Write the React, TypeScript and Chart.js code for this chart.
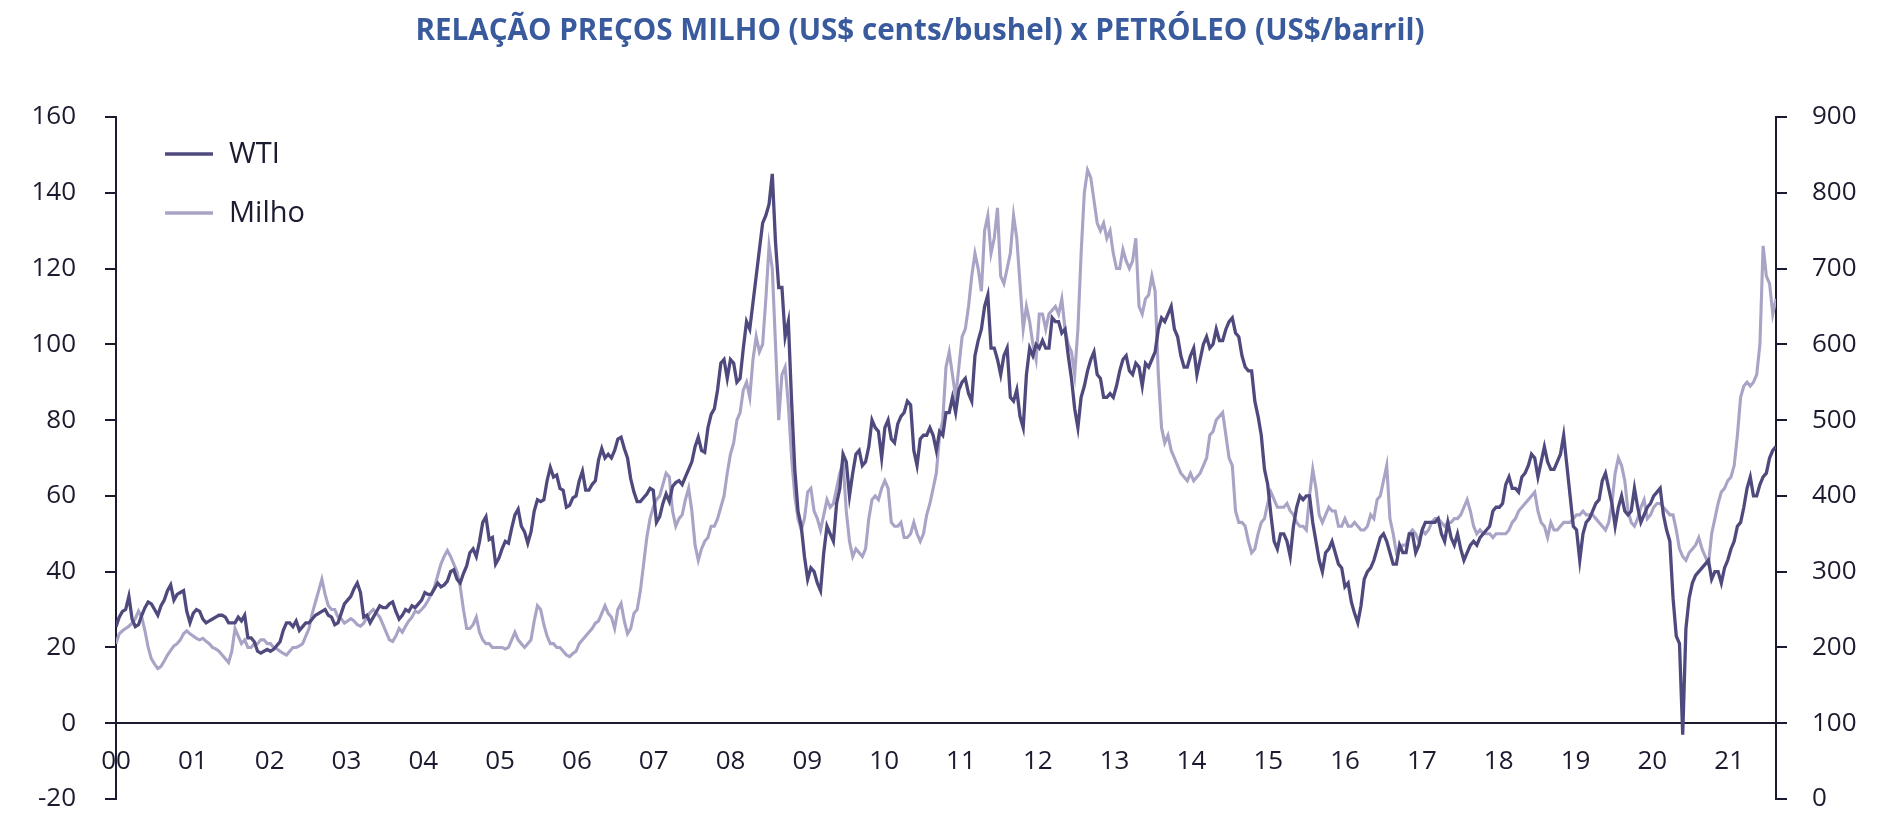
import React, { useEffect, useRef } from "react";
import { Chart, registerables } from "chart.js";

Chart.register(...registerables);

const TITLE = "RELAÇÃO PREÇOS MILHO (US$ cents/bushel) x PETRÓLEO (US$/barril)";
const SERIES_LABELS = ["WTI", "Milho"];
const YEAR_LABELS = ["00","01","02","03","04","05","06","07","08","09","10","11","12","13","14","15","16","17","18","19","20","21"];
const LEFT_TICKS = [-20, 0, 20, 40, 60, 80, 100, 120, 140, 160];
const RIGHT_TICKS = [0, 100, 200, 300, 400, 500, 600, 700, 800, 900];

// WTI, US$/barril — two readings per month (1st and 16th), Jan 2000 .. Jul 2021
const wti = [
  25.5, 28.0, 29.5, 30.0, 33.5, 27.5, 25.5, 26.0, 28.5, 30.5, 32.0, 31.5, 30.0, 28.5, 31.0, 32.5, 35.0, 36.5, 32.5, 34.0, 34.5, 35.0, 29.5, 26.5,
  29.0, 30.0, 29.5, 27.5, 26.5, 27.0, 27.5, 28.0, 28.5, 28.5, 28.0, 26.5, 26.5, 26.5, 28.0, 27.0, 28.5, 22.5, 22.5, 21.5, 19.0, 18.5, 19.0, 19.5,
  19.0, 19.5, 20.5, 21.5, 24.5, 26.5, 26.5, 25.5, 27.0, 24.5, 25.5, 26.5, 26.5, 27.5, 28.5, 29.0, 29.5, 30.0, 28.5, 28.0, 26.0, 26.5, 29.0, 31.5,
  32.5, 33.5, 35.5, 37.0, 34.5, 28.0, 28.5, 26.5, 28.0, 29.5, 31.0, 30.5, 30.5, 31.5, 32.0, 29.5, 27.5, 28.5, 30.0, 29.5, 31.0, 30.5, 31.5, 32.5,
  34.5, 34.0, 34.0, 35.5, 37.0, 36.0, 36.5, 37.5, 40.0, 40.5, 38.0, 37.0, 39.5, 41.5, 45.0, 46.0, 44.0, 48.0, 53.0, 54.5, 48.5, 49.0, 42.0, 43.5,
  46.0, 48.0, 47.5, 51.5, 55.0, 56.5, 52.0, 50.5, 47.5, 50.5, 56.0, 59.0, 58.5, 59.0, 64.0, 67.5, 65.0, 65.5, 62.0, 61.5, 57.0, 57.5, 59.5, 60.0,
  64.0, 66.5, 61.5, 61.5, 63.0, 64.0, 69.5, 72.5, 70.0, 71.0, 70.0, 72.0, 75.0, 75.5, 72.5, 70.0, 64.5, 61.0, 58.5, 58.5, 59.5, 60.5, 62.0, 61.5,
  53.0, 54.5, 58.0, 60.5, 58.5, 62.5, 63.5, 64.0, 63.0, 65.0, 67.0, 69.0, 73.0, 75.5, 72.0, 71.5, 78.0, 81.5, 83.0, 88.0, 95.0, 96.0, 91.0, 96.0,
  95, 90, 91, 99, 106, 104, 111, 118, 125, 132, 134, 137, 145, 127, 115, 115, 102, 106, 85, 67, 56, 52, 44, 38,
  41, 40, 37, 35, 45, 52, 50, 48, 58, 62, 71, 69, 60, 66, 71, 72, 68, 69, 73, 80, 78, 77, 70, 78,
  80, 75, 74, 79, 81, 82, 85, 84, 72, 68, 75, 76, 76, 78, 76, 72, 77, 76, 82, 82, 86, 82, 88, 90,
  91, 87, 85, 97, 101, 104, 110, 113, 99, 99, 96, 92, 97, 99, 86, 85, 88, 81, 78, 92, 99, 97, 100, 99,
  101, 99, 99, 107, 106, 106, 103, 104, 97, 91, 83, 78, 86, 89, 93, 96, 98, 92, 91, 86, 86, 87, 86, 89,
  93, 96, 97, 93, 92, 95, 94, 89, 95, 94, 96, 98, 104, 107, 106, 108, 110, 104, 102, 97, 94, 94, 97, 99,
  92, 96, 100, 102, 99, 100, 104, 101, 101, 104, 106, 107, 103, 102, 97, 94, 93, 93, 85, 81, 76, 67, 63, 55,
  48, 46, 50, 50, 48, 44, 52, 57, 60, 59, 60, 60, 53, 48, 43, 40, 45, 46, 48, 45, 42, 41, 36, 37,
  32, 29, 26.5, 31, 38, 40, 41, 43, 46, 49, 50, 48, 45, 42, 42, 47, 45, 45, 50, 50, 45, 47, 51, 53,
  53, 53, 53, 54, 50, 48, 53, 49, 47, 50, 46, 43, 45, 47, 48, 47, 49, 50, 51, 52, 56, 57, 57, 58,
  63, 65, 62, 62, 61, 65, 66, 68, 71, 70, 65, 69, 73, 69, 67, 67, 69, 71, 76, 68, 60, 52, 51, 43,
  50, 53, 54, 56, 58, 59, 64, 66, 62, 58, 52, 57, 60, 56, 55, 56, 62, 57, 53, 55, 57, 58, 60, 61,
  62, 55, 51, 48, 33, 23, 21, -3, 25, 33, 37, 39, 40, 41, 42, 43, 38, 40, 40, 37, 41, 43, 46, 48,
  52, 53, 57, 62, 65, 60, 60, 63, 65, 66, 70, 72, 73,
];

// Milho, US$ cents/bushel — same dates
const milho = [
  205, 218, 222, 225, 228, 232, 238, 248, 240, 222, 200, 185, 178, 172, 175, 182, 190, 196, 202, 205, 210, 218, 222, 218,
  215, 212, 210, 212, 208, 205, 200, 198, 195, 190, 185, 180, 195, 225, 215, 205, 210, 200, 200, 205, 205, 210, 210, 205,
  205, 200, 198, 195, 192, 190, 195, 200, 200, 202, 205, 215, 225, 245, 260, 275, 290, 270, 255, 250, 250, 240, 238, 232,
  235, 238, 235, 230, 228, 232, 240, 246, 250, 245, 240, 230, 220, 210, 208, 215, 225, 220, 228, 235, 240, 248, 246, 250,
  255, 262, 270, 280, 295, 310, 320, 328, 320, 310, 300, 280, 250, 225, 225, 230, 240, 220, 210, 205, 205, 200, 200, 200,
  200, 198, 200, 210, 220, 210, 205, 200, 205, 210, 235, 255, 250, 230, 215, 205, 205, 200, 200, 195, 190, 188, 192, 195,
  205, 210, 215, 220, 225, 232, 235, 245, 255, 245, 240, 225, 250, 258, 235, 218, 225, 245, 250, 275, 310, 345, 370, 385,
  395, 400, 415, 430, 425, 380, 360, 370, 375, 395, 410, 380, 335, 315, 330, 340, 345, 360, 360, 370, 385, 400, 430, 455,
  470, 500, 510, 540, 550, 530, 580, 610, 590, 600, 660, 730, 700, 600, 500, 560, 570, 520, 450, 400, 370, 355, 370, 405,
  410, 380, 370, 355, 375, 395, 385, 390, 410, 430, 445, 380, 340, 320, 330, 325, 320, 330, 370, 395, 400, 395, 410, 420,
  410, 365, 360, 360, 365, 345, 345, 350, 365, 350, 340, 350, 375, 390, 410, 430, 480, 500, 570, 590, 560, 530, 570, 610,
  620, 650, 690, 720, 700, 670, 750, 770, 720, 740, 780, 690, 680, 700, 720, 770, 740, 680, 620, 650, 630, 600, 580, 640,
  640, 620, 640, 645, 650, 640, 660, 620, 600, 590, 560, 620, 720, 800, 830, 820, 790, 760, 750, 760, 740, 750, 720, 700,
  700, 725, 710, 700, 710, 740, 650, 640, 660, 665, 690, 670, 560, 490, 470, 480, 460, 450, 440, 430, 425, 420, 430, 420,
  425, 430, 440, 450, 480, 485, 500, 505, 510, 480, 450, 440, 380, 365, 365, 360, 340, 325, 330, 350, 365, 370, 390, 405,
  395, 385, 385, 385, 390, 380, 375, 365, 360, 360, 355, 400, 435, 410, 375, 365, 375, 385, 380, 380, 360, 360, 370, 360,
  360, 365, 360, 355, 355, 360, 375, 370, 395, 400, 420, 440, 370, 350, 325, 330, 335, 335, 350, 355, 350, 340, 355, 350,
  355, 365, 370, 370, 365, 360, 365, 365, 370, 370, 375, 385, 395, 380, 360, 350, 355, 350, 350, 350, 345, 350, 350, 350,
  350, 355, 365, 370, 380, 385, 390, 395, 400, 405, 380, 365, 360, 345, 365, 355, 355, 360, 365, 365, 365, 370, 375, 375,
  380, 375, 375, 375, 370, 365, 360, 355, 365, 390, 430, 450, 440, 420, 380, 365, 360, 370, 385, 395, 370, 375, 385, 390,
  390, 385, 380, 375, 375, 355, 330, 320, 315, 325, 330, 335, 345, 330, 320, 310, 350, 370, 390, 405, 410, 420, 425, 440,
  480, 530, 545, 550, 545, 550, 560, 600, 730, 690, 680, 640, 660,
];

const X_MAX = 21.61; // axis length in label units (labels 00..21 at integer positions)
const FONT = "'Open Sans', 'Noto Sans', 'DejaVu Sans', sans-serif";
const INK = "#1b1b2f";
const TITLE_COLOR = "#3a5a9e";
const WTI_COLOR = "#4f4a7e";
const MILHO_COLOR = "#a9a3c6";

const W = 1891;
const H = 830;
const AREA_TOP = 117;
const AREA_BOTTOM = 799;

function toPoints(values: number[]) {
  const step = X_MAX / (values.length - 1);
  return values.map((v, i) => ({ x: i * step, y: v }));
}

const titlePlugin = {
  id: "customTitle",
  afterDraw(chart: any) {
    const ctx = chart.ctx;
    ctx.save();
    ctx.font = `bold 30px ${FONT}`;
    const w = ctx.measureText(TITLE).width;
    const target = 1009;
    const sx = Math.min(1, target / w);
    ctx.translate(920, 40);
    ctx.scale(sx, 1);
    ctx.fillStyle = TITLE_COLOR;
    ctx.textAlign = "center";
    ctx.textBaseline = "alphabetic";
    ctx.fillText(TITLE, 0, 0);
    ctx.restore();
  },
};

const legendPlugin = {
  id: "customLegend",
  afterDraw(chart: any) {
    const ctx = chart.ctx;
    const rows = [154, 213];
    ctx.save();
    chart.data.datasets.forEach((ds: any, i: number) => {
      const y = rows[i];
      ctx.strokeStyle = ds.borderColor;
      ctx.lineWidth = 3.5;
      ctx.lineCap = "butt";
      ctx.beginPath();
      ctx.moveTo(165, y);
      ctx.lineTo(213, y);
      ctx.stroke();
      ctx.fillStyle = INK;
      ctx.font = `29px ${FONT}`;
      ctx.textAlign = "left";
      ctx.textBaseline = "middle";
      ctx.fillText(ds.label, 229, y + 1);
    });
    ctx.restore();
  },
};

export default function App() {
  const canvasRef = useRef<HTMLCanvasElement | null>(null);

  useEffect(() => {
    const canvas = canvasRef.current;
    if (!canvas) return;
    const tickFont = { family: FONT, size: 26 };
    const chart = new Chart(canvas, {
      type: "line",
      data: {
        datasets: [
          {
            label: SERIES_LABELS[0],
            data: toPoints(wti),
            yAxisID: "y",
            borderColor: WTI_COLOR,
            backgroundColor: WTI_COLOR,
            borderWidth: 3.3,
            pointRadius: 0,
            tension: 0,
          },
          {
            label: SERIES_LABELS[1],
            data: toPoints(milho),
            yAxisID: "y1",
            borderColor: MILHO_COLOR,
            backgroundColor: MILHO_COLOR,
            borderWidth: 3.1,
            pointRadius: 0,
            tension: 0,
          },
        ],
      },
      options: {
        responsive: false,
        maintainAspectRatio: false,
        devicePixelRatio: 1,
        animation: false,
        layout: { padding: { top: AREA_TOP, bottom: H - AREA_BOTTOM, left: 0, right: 0 } },
        plugins: {
          legend: { display: false },
          title: { display: false },
          tooltip: { enabled: false },
        },
        scales: {
          x: {
            type: "linear",
            position: { y: 0 } as any,
            min: 0,
            max: X_MAX,
            grid: { display: false, drawTicks: false },
            border: { display: true, color: INK, width: 2 },
            afterBuildTicks: (s: any) => {
              s.ticks = YEAR_LABELS.map((_, i) => ({ value: i }));
            },
            afterFit: (s: any) => {
              s.height = 0;
              s.paddingTop = 0;
              s.paddingBottom = 0;
            },
            ticks: {
              autoSkip: false,
              maxRotation: 0,
              font: tickFont,
              color: INK,
              padding: 23,
              callback: (v: any) => YEAR_LABELS[Math.round(Number(v))] ?? "",
            },
          },
          y: {
            type: "linear",
            position: "left",
            min: -20,
            max: 160,
            afterBuildTicks: (s: any) => {
              s.ticks = LEFT_TICKS.map((v) => ({ value: v }));
            },
            afterFit: (s: any) => {
              s.width = 116;
              s.paddingTop = 0;
              s.paddingBottom = 0;
            },
            grid: { display: true, drawOnChartArea: false, drawTicks: true, tickLength: 11, color: INK, lineWidth: 2 },
            border: { display: true, color: INK, width: 2 },
            ticks: { font: tickFont, color: INK, padding: 29 },
          },
          y1: {
            type: "linear",
            position: "right",
            min: 0,
            max: 900,
            afterBuildTicks: (s: any) => {
              s.ticks = RIGHT_TICKS.map((v) => ({ value: v }));
            },
            afterFit: (s: any) => {
              s.width = W - 1776;
              s.paddingTop = 0;
              s.paddingBottom = 0;
            },
            grid: { display: true, drawOnChartArea: false, drawTicks: true, tickLength: 11, color: INK, lineWidth: 2 },
            border: { display: true, color: INK, width: 2 },
            ticks: { font: tickFont, color: INK, padding: 25 },
          },
        },
      },
      plugins: [titlePlugin, legendPlugin],
    });
    return () => chart.destroy();
  }, []);

  return (
    <div style={{ position: "absolute", left: 0, top: 0, width: W, height: H, background: "#ffffff" }}>
      <canvas ref={canvasRef} width={W} height={H} style={{ display: "block", width: W, height: H }} />
    </div>
  );
}
